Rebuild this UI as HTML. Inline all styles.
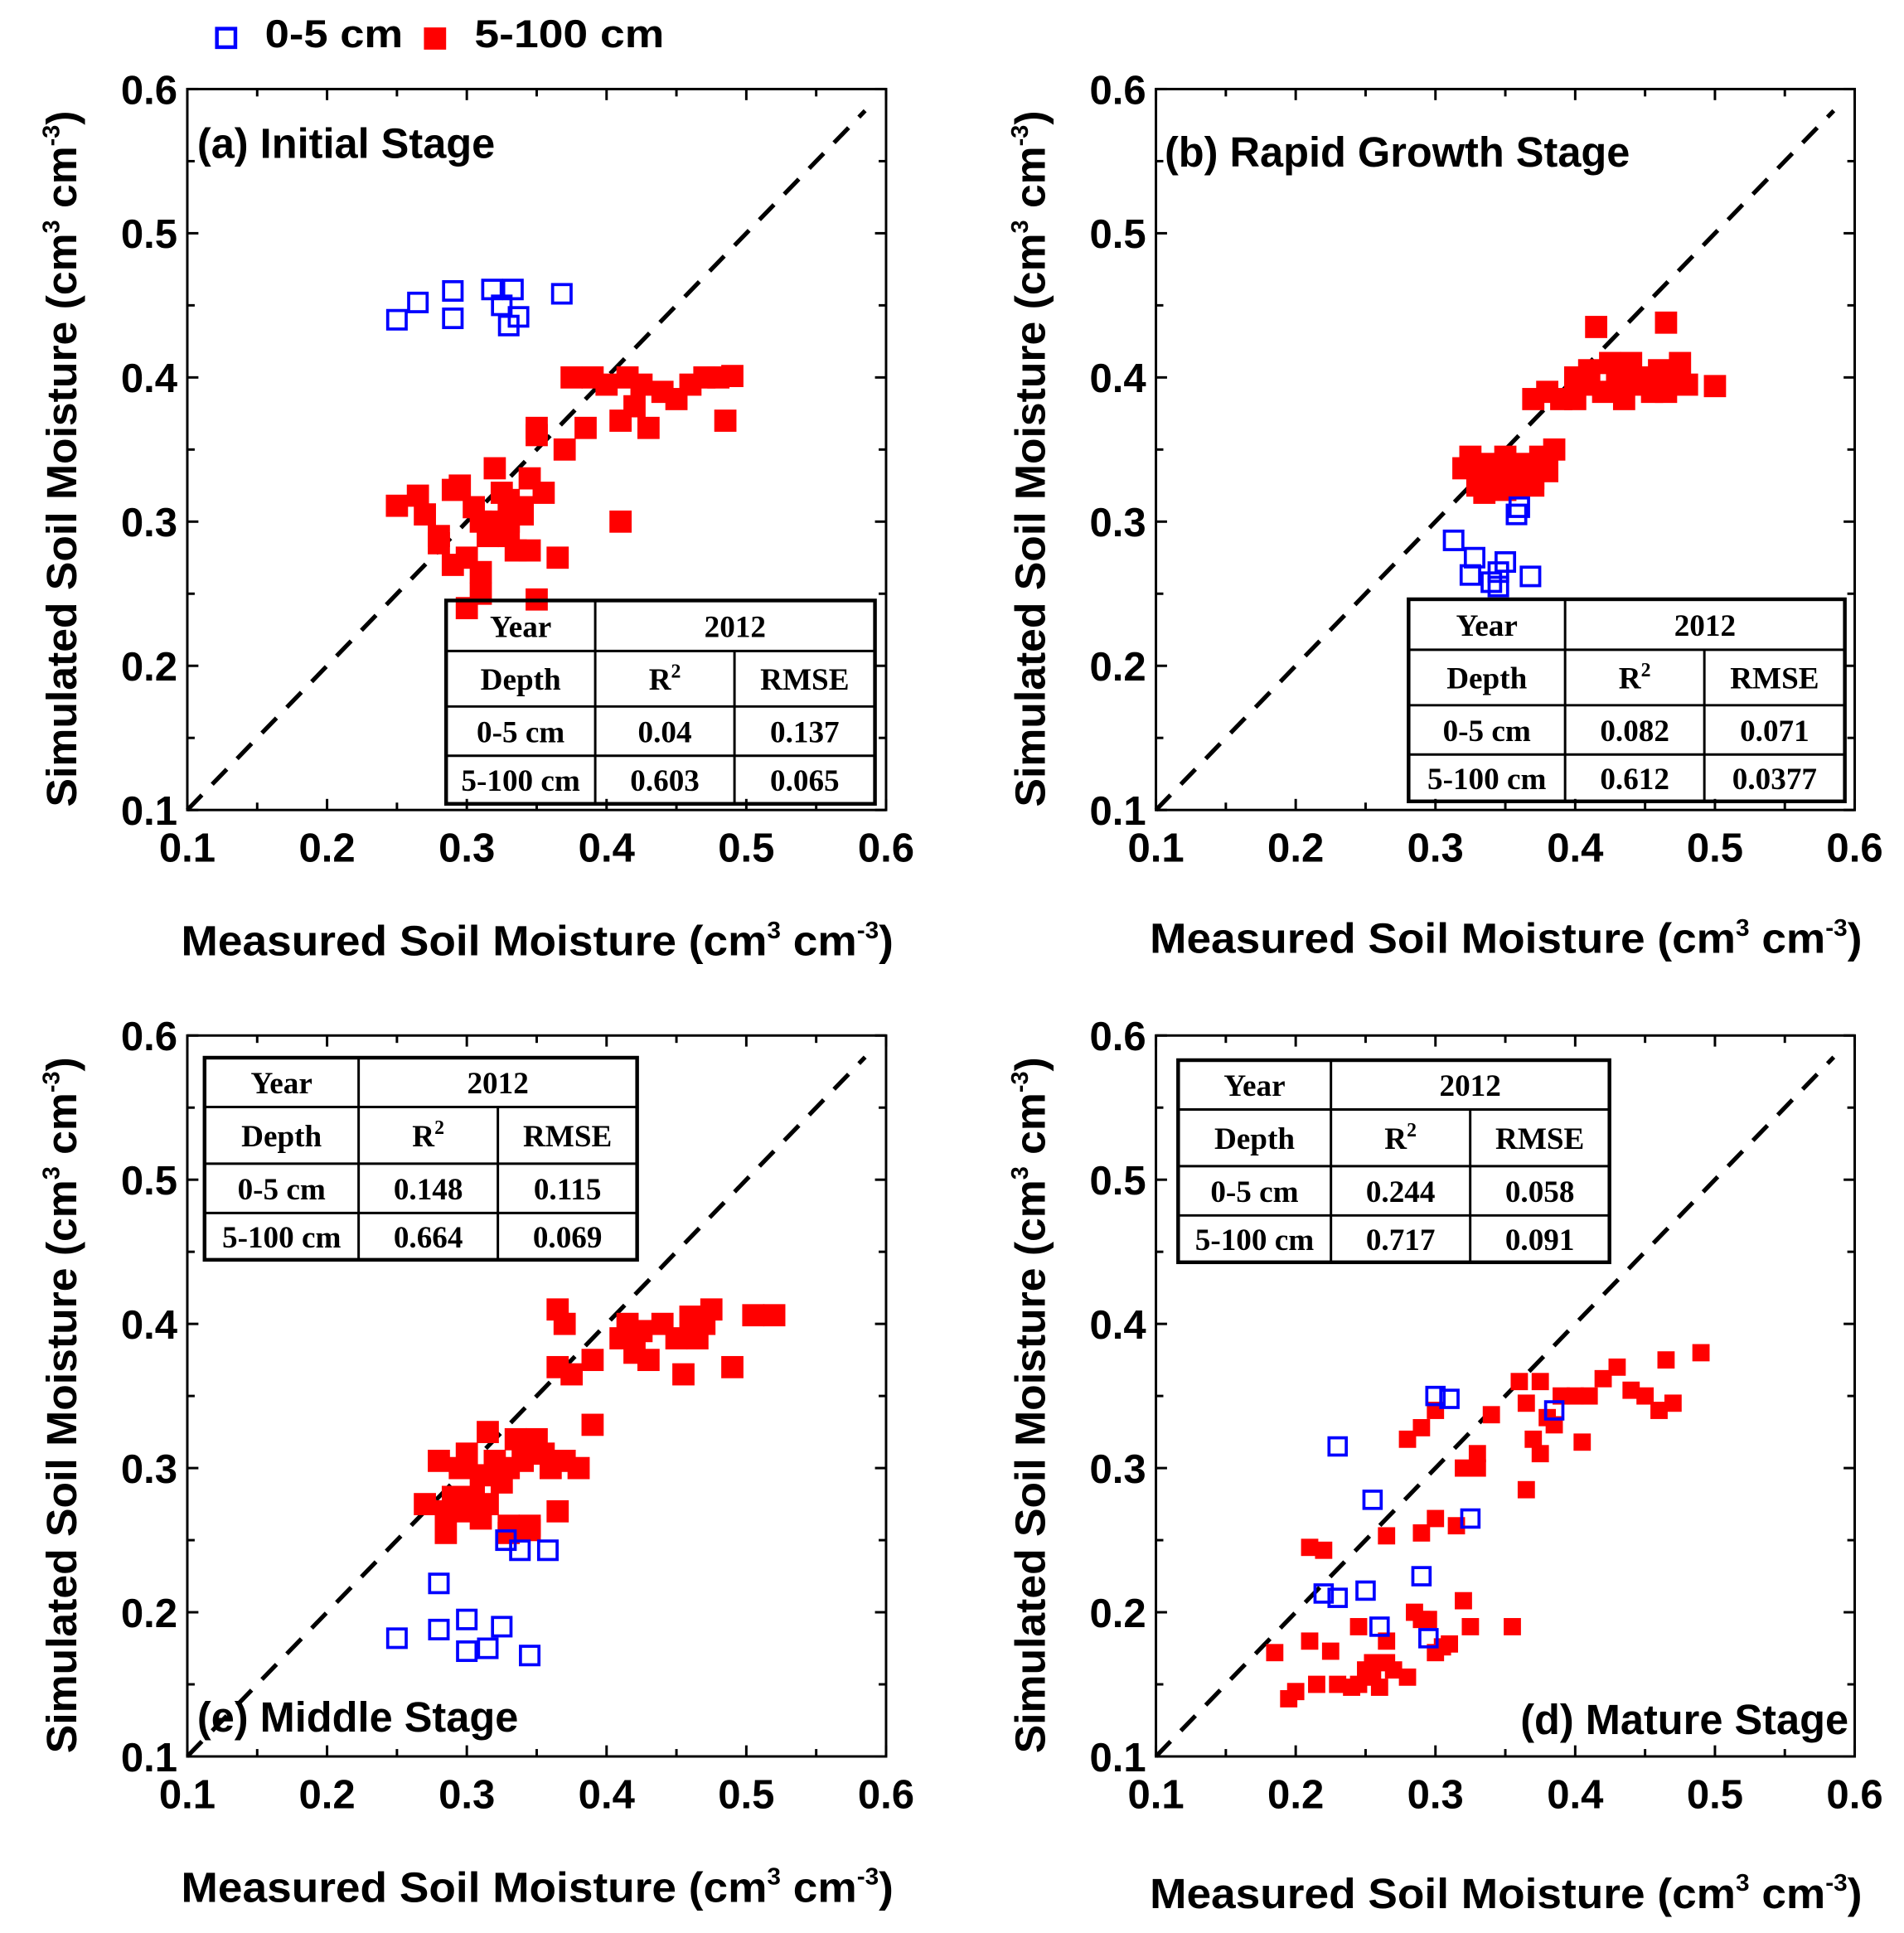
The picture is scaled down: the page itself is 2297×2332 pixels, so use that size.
<!DOCTYPE html>
<html><head><meta charset="utf-8"><style>
html,body{margin:0;padding:0;background:#fff;}
svg{display:block;font-family:"Liberation Sans",sans-serif;}
.tk{font-size:33px;font-weight:bold;}
.tt{font-size:34px;font-weight:bold;}
.lg{font-size:32px;font-weight:bold;}
.tb{font-family:"Liberation Serif",serif;font-size:25px;font-weight:bold;}
</style></head><body>
<svg id="chart" width="2297" height="2332" viewBox="0 0 1545 1568" xmlns="http://www.w3.org/2000/svg"></svg>
<script>
const ticks=[0.1,0.2,0.3,0.4,0.5,0.6];
const tickLabels=["0.1","0.2","0.3","0.4","0.5","0.6"];
const aBlueX=[0.25,0.265,0.29,0.29,0.318,0.333,0.325,0.33,0.337,0.368];
const aBlueY=[0.44,0.452,0.46,0.441,0.461,0.461,0.45,0.436,0.442,0.458];
const aRedX=[0.25,0.265,0.27,0.28,0.28,0.29,0.29,0.295,0.3,0.3,0.305,0.31,0.31,0.315,0.32,0.32,0.325,0.33,0.33,0.335,0.34,0.345,0.345,0.35,0.35,0.355,0.365,0.37,0.375,0.385,0.39,0.4,0.41,0.415,0.42,0.425,0.43,0.44,0.45,0.46,0.47,0.48,0.485,0.49,0.41,0.35,0.34,0.31,0.33];
const aRedY=[0.311,0.318,0.305,0.29,0.285,0.322,0.27,0.325,0.24,0.275,0.31,0.3,0.25,0.29,0.337,0.3,0.32,0.3,0.315,0.28,0.31,0.33,0.28,0.365,0.36,0.32,0.275,0.35,0.4,0.365,0.4,0.395,0.37,0.4,0.38,0.395,0.365,0.39,0.385,0.395,0.4,0.4,0.37,0.401,0.3,0.246,0.305,0.265,0.29];
const bBlueX=[0.313,0.325,0.328,0.34,0.345,0.35,0.358,0.36,0.368,0.345];
const bBlueY=[0.287,0.263,0.275,0.258,0.255,0.272,0.305,0.31,0.262,0.265];
const bRedX=[0.32,0.325,0.33,0.335,0.34,0.345,0.35,0.355,0.36,0.365,0.37,0.375,0.38,0.385,0.33,0.34,0.35,0.36,0.37,0.38,0.37,0.38,0.39,0.4,0.41,0.415,0.42,0.425,0.43,0.435,0.44,0.445,0.45,0.455,0.46,0.465,0.47,0.475,0.48,0.5,0.41,0.465,0.4,0.43];
const bRedY=[0.337,0.345,0.33,0.32,0.34,0.33,0.345,0.325,0.335,0.34,0.33,0.345,0.335,0.35,0.325,0.335,0.322,0.33,0.325,0.34,0.385,0.39,0.385,0.4,0.395,0.435,0.39,0.41,0.4,0.385,0.41,0.395,0.4,0.39,0.405,0.438,0.4,0.41,0.395,0.394,0.405,0.39,0.385,0.4];
const cBlueX=[0.25,0.28,0.28,0.3,0.3,0.315,0.325,0.328,0.338,0.345,0.358];
const cBlueY=[0.182,0.22,0.188,0.195,0.173,0.175,0.19,0.25,0.243,0.17,0.243];
const cRedX=[0.27,0.28,0.285,0.29,0.295,0.3,0.3,0.305,0.31,0.315,0.315,0.32,0.325,0.33,0.33,0.335,0.34,0.345,0.35,0.355,0.36,0.365,0.37,0.38,0.33,0.345,0.365,0.365,0.37,0.375,0.39,0.39,0.41,0.415,0.42,0.425,0.43,0.44,0.45,0.455,0.46,0.465,0.47,0.475,0.49,0.505,0.52,0.285,0.31];
const cRedY=[0.275,0.305,0.255,0.28,0.3,0.27,0.31,0.28,0.295,0.325,0.275,0.305,0.29,0.3,0.255,0.32,0.305,0.26,0.32,0.31,0.3,0.27,0.305,0.3,0.26,0.257,0.37,0.41,0.4,0.365,0.33,0.375,0.39,0.4,0.38,0.395,0.375,0.4,0.39,0.365,0.405,0.39,0.4,0.41,0.37,0.406,0.406,0.27,0.265];
const dBlueX=[0.23,0.255,0.22,0.23,0.25,0.26,0.29,0.295,0.3,0.31,0.325,0.385];
const dBlueY=[0.315,0.278,0.213,0.21,0.215,0.19,0.225,0.182,0.35,0.348,0.265,0.34];
const dRedX=[0.185,0.195,0.2,0.21,0.21,0.215,0.22,0.225,0.23,0.24,0.245,0.25,0.255,0.255,0.26,0.265,0.265,0.27,0.28,0.285,0.29,0.295,0.3,0.305,0.31,0.315,0.32,0.325,0.33,0.355,0.245,0.265,0.28,0.29,0.3,0.32,0.33,0.34,0.29,0.3,0.36,0.365,0.37,0.375,0.38,0.385,0.39,0.4,0.405,0.41,0.42,0.43,0.44,0.45,0.46,0.465,0.47,0.49,0.365,0.375];
const dRedY=[0.172,0.14,0.145,0.245,0.18,0.15,0.243,0.173,0.15,0.148,0.19,0.16,0.155,0.165,0.148,0.18,0.165,0.16,0.155,0.2,0.195,0.195,0.172,0.176,0.178,0.26,0.208,0.19,0.3,0.19,0.15,0.253,0.32,0.255,0.265,0.3,0.31,0.337,0.328,0.34,0.36,0.345,0.32,0.36,0.335,0.33,0.35,0.35,0.318,0.35,0.362,0.37,0.354,0.35,0.34,0.375,0.345,0.38,0.285,0.31];
const panels=[
 {id:"a",x0:152,x1:719,y0:72,y1:657,bx:aBlueX,by:aBlueY,rx:aRedX,ry:aRedY,rs:18,bs:15,title:"(a) Initial Stage",tx:160,ty:128,
  tab:{x:[362,483,596,710],y:[487,528,573,613,652]},vals:[["0-5 cm","0.04","0.137"],["5-100 cm","0.603","0.065"]],xt:775},
 {id:"b",x0:938,x1:1505,y0:72,y1:657,bx:bBlueX,by:bBlueY,rx:bRedX,ry:bRedY,rs:18,bs:15,title:"(b) Rapid Growth Stage",tx:945,ty:135,
  tab:{x:[1143,1270,1383,1497],y:[486,527,572,612,650]},vals:[["0-5 cm","0.082","0.071"],["5-100 cm","0.612","0.0377"]],xt:773},
 {id:"c",x0:152,x1:719,y0:840,y1:1425,bx:cBlueX,by:cBlueY,rx:cRedX,ry:cRedY,rs:18,bs:15,title:"(e) Middle Stage",tx:160,ty:1405,
  tab:{x:[166,291,404,517],y:[858,898,944,984,1022]},vals:[["0-5 cm","0.148","0.115"],["5-100 cm","0.664","0.069"]],xt:1543},
 {id:"d",x0:938,x1:1505,y0:840,y1:1425,bx:dBlueX,by:dBlueY,rx:dRedX,ry:dRedY,rs:14,bs:14,title:"(d) Mature Stage",tx:1500,ty:1407,anchor:"end",
  tab:{x:[956,1080,1193,1306],y:[860,900,946,986,1024]},vals:[["0-5 cm","0.244","0.058"],["5-100 cm","0.717","0.091"]],xt:1548}
];
const svg=document.getElementById('chart');
const NS="http://www.w3.org/2000/svg";
function mk(tag,attrs,parent,text){const e=document.createElementNS(NS,tag);for(const k in attrs)e.setAttribute(k,attrs[k]);if(text!==undefined)e.textContent=text;(parent||svg).appendChild(e);return e;}
let lg=mk('g',{});


mk('rect',{x:176,y:23,width:15,height:15,fill:'none',stroke:'#0000ff','stroke-width':3},lg);
mk('text',{x:215,y:38,class:'lg',textLength:112,lengthAdjust:'spacingAndGlyphs'},lg,'0-5 cm');
mk('rect',{x:344,y:22,width:18,height:18,fill:'#ff0000'},lg);
mk('text',{x:385,y:38,class:'lg',textLength:154,lengthAdjust:'spacingAndGlyphs'},lg,'5-100 cm');
const titleHTML='Measured Soil Moisture (cm<tspan dy="-14" font-size="19">3</tspan><tspan dy="14"> cm</tspan><tspan dy="-14" font-size="19">-3</tspan><tspan dy="14">)</tspan>';
const ytitleHTML='Simulated Soil Moisture (cm<tspan dy="-14" font-size="19">3</tspan><tspan dy="14"> cm</tspan><tspan dy="-14" font-size="19">-3</tspan><tspan dy="14">)</tspan>';
panels.forEach(p=>{
 const g=mk('g',{});
 
 
 const sx=v=>p.x0+(v-0.1)/0.5*(p.x1-p.x0);
 const sy=v=>p.y1-(v-0.1)/0.5*(p.y1-p.y0);
 mk('rect',{x:p.x0,y:p.y0,width:p.x1-p.x0,height:p.y1-p.y0,fill:'none',stroke:'#000','stroke-width':2},g);
 for(let i=0;i<11;i++){const v=0.1+i*0.05;const L=i%2==0?9:6;
  mk('line',{x1:sx(v),x2:sx(v),y1:p.y1,y2:p.y1-L,stroke:'#000','stroke-width':2},g);
  mk('line',{x1:sx(v),x2:sx(v),y1:p.y0,y2:p.y0+L,stroke:'#000','stroke-width':2},g);
  mk('line',{x1:p.x0,x2:p.x0+L,y1:sy(v),y2:sy(v),stroke:'#000','stroke-width':2},g);
  mk('line',{x1:p.x1,x2:p.x1-L,y1:sy(v),y2:sy(v),stroke:'#000','stroke-width':2},g);}
 ticks.forEach((v,i)=>{
  mk('text',{x:sx(v),y:p.y1+42,class:'tk','text-anchor':'middle'},g,tickLabels[i]);
  mk('text',{x:p.x0-8,y:sy(v)+12,class:'tk','text-anchor':'end'},g,tickLabels[i]);});
 const xtl=mk('text',{x:147,y:p.xt,class:'tt',textLength:578,lengthAdjust:'spacingAndGlyphs',transform:`translate(${p.x0-152} 0)`},g);
 xtl.innerHTML=titleHTML;
 const yx=p.x0-102,ym=(p.y0+p.y1)/2+8;
 mk('text',{x:yx-282,y:ym,class:'tt',textLength:565,lengthAdjust:'spacingAndGlyphs',transform:`rotate(-90 ${yx} ${ym}) translate(0 12)`},g).innerHTML=ytitleHTML;
 mk('line',{x1:sx(0.1),y1:sy(0.1),x2:sx(0.585),y2:sy(0.585),stroke:'#000','stroke-width':3.5,'stroke-dasharray':'17 12'},g);
 const X=p.tab.x,Y=p.tab.y;
 p.rx.forEach((v,i)=>{const r=mk('rect',{x:sx(v)-p.rs/2,y:sy(p.ry[i])-p.rs/2,width:p.rs,height:p.rs,fill:'#ff0000'},g);
  
  });
 p.bx.forEach((v,i)=>{const r=mk('rect',{x:sx(v)-p.bs/2,y:sy(p.by[i])-p.bs/2,width:p.bs,height:p.bs,fill:'none',stroke:'#0000ff','stroke-width':2.5},g);
  
  });
 mk('text',{x:p.tx,y:p.ty,class:'tt','text-anchor':p.anchor||'start'},g,p.title);
 const t=mk('g',{},g);
 
 
 mk('rect',{x:X[0],y:Y[0],width:X[3]-X[0],height:Y[4]-Y[0],fill:'none',stroke:'#000','stroke-width':3},t);
 for(let i=1;i<4;i++)mk('line',{x1:X[0],x2:X[3],y1:Y[i],y2:Y[i],stroke:'#000','stroke-width':2},t);
 mk('line',{x1:X[1],x2:X[1],y1:Y[0],y2:Y[4],stroke:'#000','stroke-width':2},t);
 mk('line',{x1:X[2],x2:X[2],y1:Y[1],y2:Y[4],stroke:'#000','stroke-width':2},t);
 const cy=i=>(Y[i]+Y[i+1])/2+9;const cx=j=>(X[j]+X[j+1])/2;
 mk('text',{x:cx(0),y:cy(0),class:'tb','text-anchor':'middle'},t,'Year');
 mk('text',{x:(X[1]+X[3])/2,y:cy(0),class:'tb','text-anchor':'middle'},t,'2012');
 mk('text',{x:cx(0),y:cy(1),class:'tb','text-anchor':'middle'},t,'Depth');
 mk('text',{x:cx(1),y:cy(1),class:'tb','text-anchor':'middle'},t).innerHTML='R<tspan dy="-10" font-size="16">2</tspan>';
 mk('text',{x:cx(2),y:cy(1),class:'tb','text-anchor':'middle'},t,'RMSE');
 p.vals.forEach((row,r)=>row.forEach((s,j)=>mk('text',{x:cx(j),y:cy(r+2),class:'tb','text-anchor':'middle'},t,s)));
});
</script>
</body></html>
